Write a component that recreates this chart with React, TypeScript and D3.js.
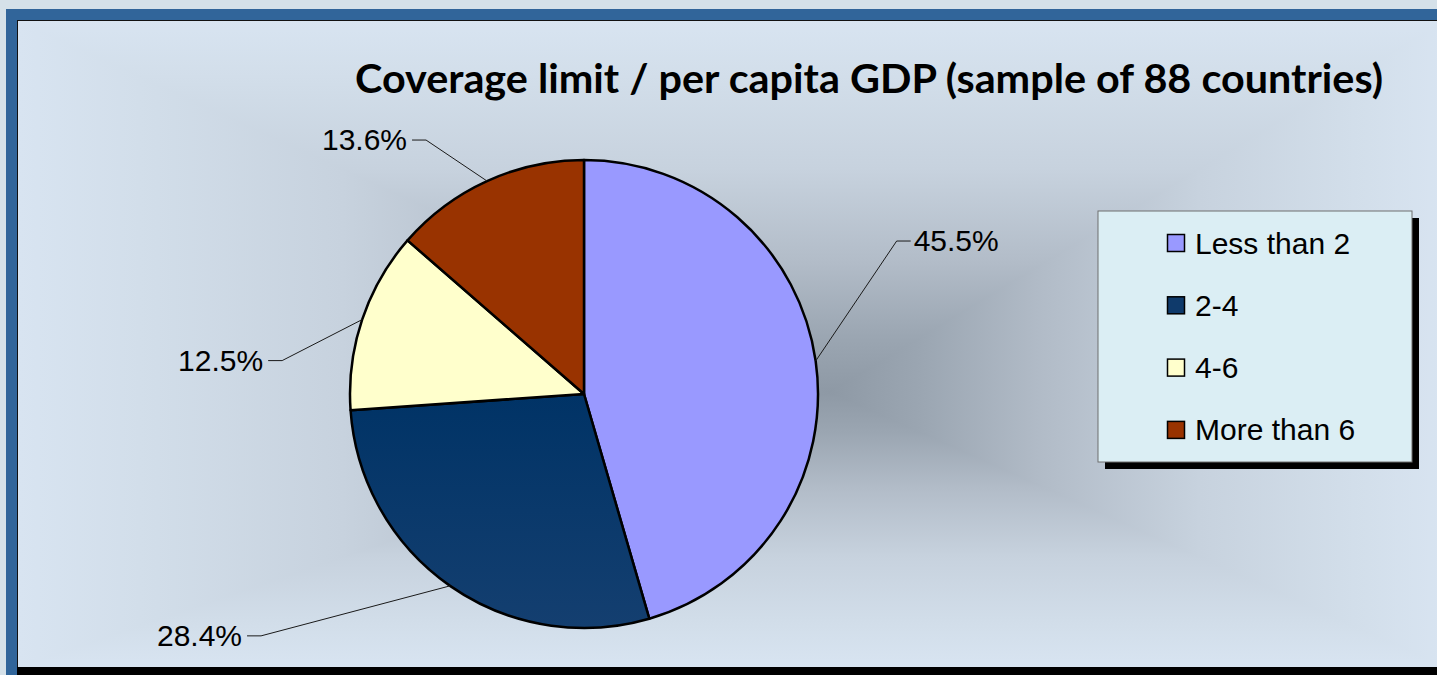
import * as d3 from "d3";

const categories = ["Less than 2", "2-4", "4-6", "More than 6"];
const shares = [45.5, 28.4, 12.5, 13.6];
const colors = ["#9999ff", "url(#navyFill)", "#ffffcc", "#993300"];
const swatchColors = ["#9999ff", "#0f3a6b", "#ffffcc", "#993300"];

// where each leader line bends, relative to the point it leaves on the rim
const LABEL_BEND = [
    [81, -120],
    [-189, 50],
    [-80, 41],
    [-61, -41],
];

const W = 1437;
const H = 675;
const PIE = { cx: 584, cy: 394, r: 234 };
const BG = { x0: 18, y0: 21, x1: 1445, y1: 667, cx: 830, cy: 392 };
const LEGEND = { x: 1098, y: 211, w: 314, h: 251, top: 243, step: 62.3 };

const BG_STOPS = [
    [0, "#8e99a5"],
    [0.15, "#9ba6b2"],
    [0.35, "#b2bcc8"],
    [0.6, "#c7d2de"],
    [0.85, "#d2deea"],
    [1, "#d8e4f1"],
];

function BgStops() {
    return (
        <>
            {BG_STOPS.map(([o, c]) => (
                <stop key={o as number} offset={o as number} stopColor={c as string} />
            ))}
        </>
    );
}

export default function App() {
    const arcs = d3
        .pie<number>()
        .sort(null)
        .value((d) => d)(shares);
    const arc = d3.arc<d3.PieArcDatum<number>>().innerRadius(0).outerRadius(PIE.r);

    const { x0, y0, x1, y1, cx, cy } = BG;
    // four triangles meeting in the centre make a rectangular "from centre" gradient
    const tri = [
        { id: "gTop", d: `M${x0},${y0}L${x1},${y0}L${cx},${cy}Z`, to: [cx, y0] },
        { id: "gRight", d: `M${x1},${y0}L${x1},${y1}L${cx},${cy}Z`, to: [x1, cy] },
        { id: "gBottom", d: `M${x1},${y1}L${x0},${y1}L${cx},${cy}Z`, to: [cx, y1] },
        { id: "gLeft", d: `M${x0},${y1}L${x0},${y0}L${cx},${cy}Z`, to: [x0, cy] },
    ];

    return (
        <div style={{ position: "fixed", left: 0, top: 0 }}>
            <svg width={W} height={H} style={{ display: "block" }}>
                <defs>
                    {tri.map((t) => (
                        <linearGradient key={t.id} id={t.id} gradientUnits="userSpaceOnUse" x1={cx} y1={cy} x2={t.to[0]} y2={t.to[1]}>
                            <BgStops />
                        </linearGradient>
                    ))}
                    <linearGradient id="navyFill" x1="0" y1="0" x2="0" y2="1">
                        <stop offset="0" stopColor="#003366" />
                        <stop offset="1" stopColor="#143f70" />
                    </linearGradient>
                    <clipPath id="areaClip">
                        <rect x={x0} y={y0} width={x1 - x0} height={y1 - y0} />
                    </clipPath>
                </defs>

                {/* page + blue frame */}
                <rect width={W} height={H} fill="#d5e1e9" />
                <rect x={6} y={9} width={W} height={H} fill="#31659a" />
                <rect x={17} y={20} width={W} height={H} fill="#111" />

                <g clipPath="url(#areaClip)">
                    {tri.map((t) => (
                        <path key={t.id} d={t.d} fill={`url(#${t.id})`} stroke={`url(#${t.id})`} strokeWidth={2} />
                    ))}
                </g>
                <rect x={17} y={y1} width={W} height={H - y1} fill="#000" />

                <text
                    x={355}
                    y={93}
                    fontFamily="Lato, 'Open Sans', sans-serif"
                    fontWeight={700}
                    fontSize={40}
                    textLength={1028}
                    lengthAdjust="spacingAndGlyphs"
                    fill="#000"
                >
                    Coverage limit / per capita GDP (sample of 88 countries)
                </text>

                <g transform={`translate(${PIE.cx},${PIE.cy})`}>
                    {arcs.map((a, i) => (
                        <path key={i} d={arc(a) ?? ""} fill={colors[i]} stroke="#000" strokeWidth={2.5} strokeLinejoin="round" />
                    ))}
                </g>

                {/* leader lines and percentage labels */}
                {arcs.map((a, i) => {
                    const mid = (a.startAngle + a.endAngle) / 2;
                    const px = PIE.cx + PIE.r * Math.sin(mid);
                    const py = PIE.cy - PIE.r * Math.cos(mid);
                    const bx = px + LABEL_BEND[i][0];
                    const by = py + LABEL_BEND[i][1];
                    const right = LABEL_BEND[i][0] > 0;
                    const tx = right ? bx + 14 : bx - 14;
                    return (
                        <g key={i}>
                            <polyline points={`${px},${py} ${bx},${by} ${tx},${by}`} fill="none" stroke="#1a1a1a" strokeWidth={1} />
                            <text
                                x={right ? tx + 3 : tx - 5}
                                y={by + 10}
                                textAnchor={right ? "start" : "end"}
                                fontFamily="'Liberation Sans', Arial, sans-serif"
                                fontSize={30}
                                fill="#000"
                            >
                                {d3.format(".1f")(shares[i])}%
                            </text>
                        </g>
                    );
                })}

                {/* legend */}
                <rect x={LEGEND.x + 7} y={LEGEND.y + 7} width={LEGEND.w} height={LEGEND.h} fill="#000" />
                <rect x={LEGEND.x} y={LEGEND.y} width={LEGEND.w} height={LEGEND.h} fill="#dbeef4" stroke="#6f6f6f" strokeWidth={1} />
                {categories.map((c, i) => {
                    const y = LEGEND.top + i * LEGEND.step;
                    return (
                        <g key={c}>
                            <rect x={1167.5} y={y - 8.5} width={17} height={17} fill={swatchColors[i]} stroke="#000" strokeWidth={1.5} />
                            <text x={1195} y={y + 10.5} fontFamily="'Liberation Sans', Arial, sans-serif" fontSize={30} fill="#000">
                                {c}
                            </text>
                        </g>
                    );
                })}
            </svg>
        </div>
    );
}
